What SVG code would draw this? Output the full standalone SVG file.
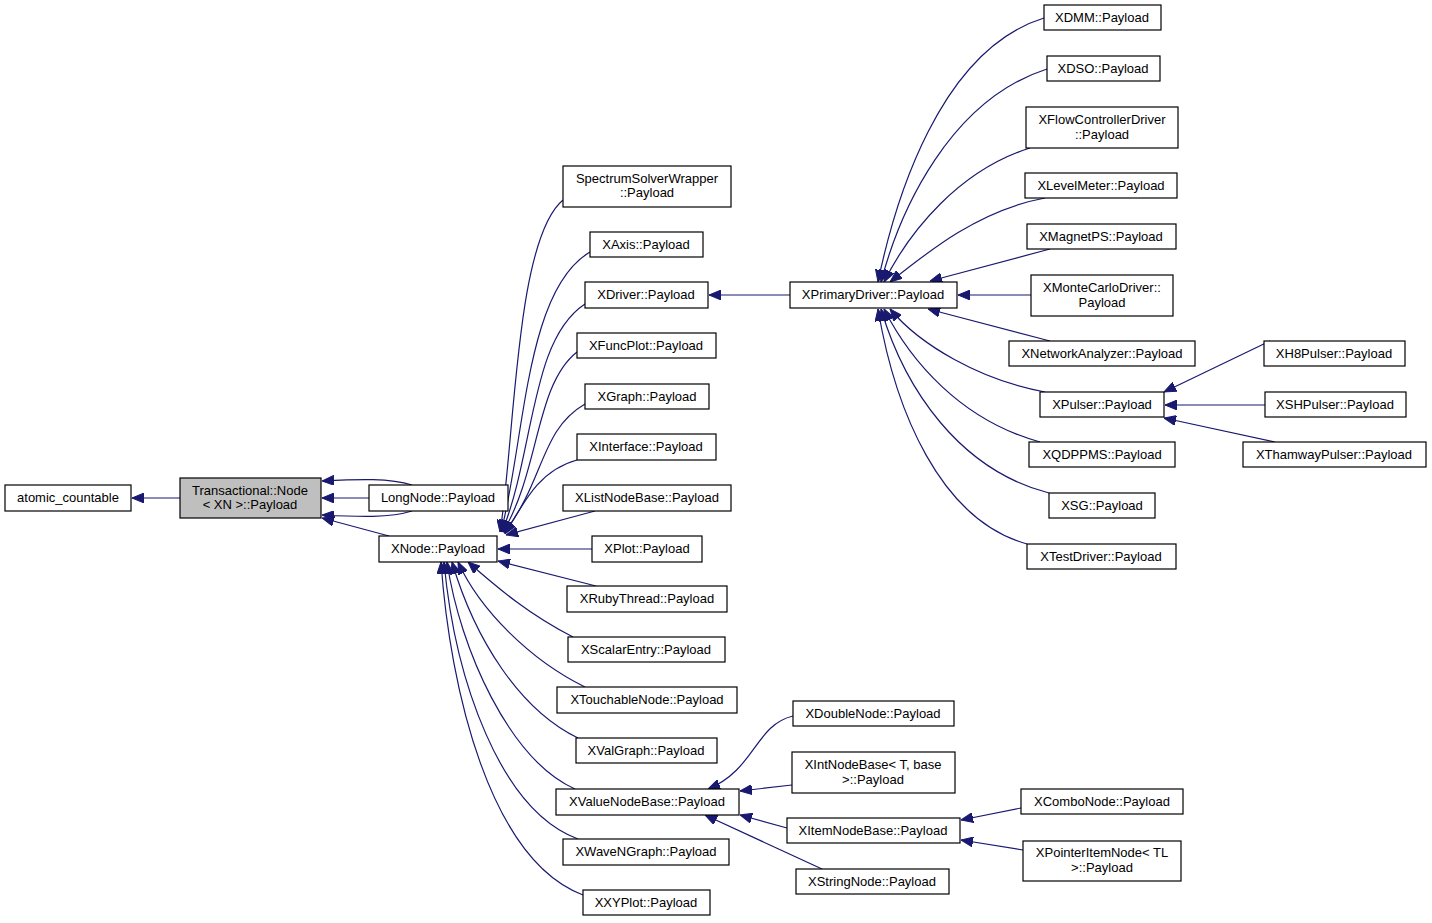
<svg xmlns="http://www.w3.org/2000/svg" width="1432" height="923" viewBox="0 0 1432 923">
<style>
.n rect{fill:#fff;stroke:#000;stroke-width:1.2}
.n text{font-family:"Liberation Sans",Arial,sans-serif;font-size:13px;text-anchor:middle;fill:#000}
#edges path{fill:none;stroke:#191970;stroke-width:1.2;marker-end:url(#a)}
</style>
<defs><marker id="a" viewBox="0 0 12 10" refX="12" refY="5" markerWidth="12" markerHeight="10" markerUnits="userSpaceOnUse" orient="auto"><path d="M0,0L12,5L0,10z" fill="#191970" stroke="#191970"/></marker></defs>
<rect width="1432" height="923" fill="#fff"/>
<g id="edges">
<path d="M180,498L132,498"/>
<path d="M412,485C390,478 360,479 322,481"/>
<path d="M369,498L322,498"/>
<path d="M412,511C390,518 360,517 322,515"/>
<path d="M389,536L322,518"/>
<path d="M563,200C515,240 515,440 500,532"/>
<path d="M590,252C525,290 525,440 501,532"/>
<path d="M585,304C530,340 535,450 502,532"/>
<path d="M577,352C535,385 540,470 503,532"/>
<path d="M585,404C540,430 545,480 504,533"/>
<path d="M577,460C540,470 525,500 505,534"/>
<path d="M595,511L506,535"/>
<path d="M592,549L498,549"/>
<path d="M596,586L498,561"/>
<path d="M573,637C530,615 500,590 468,562"/>
<path d="M585,687C530,660 480,610 458,562"/>
<path d="M578,738C520,710 475,640 452,562"/>
<path d="M575,789C510,760 460,650 447,562"/>
<path d="M578,839C500,810 455,680 444,562"/>
<path d="M583,895C490,860 450,690 441,562"/>
<path d="M790,295L709,295"/>
<path d="M1044,18C940,50 895,200 878,282"/>
<path d="M1047,69C950,100 900,210 881,282"/>
<path d="M1030,148C960,170 910,230 884,282"/>
<path d="M1045,198C980,210 930,250 890,282"/>
<path d="M1050,249L930,281"/>
<path d="M1031,295L958,295"/>
<path d="M1050,341L928,309"/>
<path d="M1045,392C980,380 920,345 890,309"/>
<path d="M1040,442C960,420 910,360 884,309"/>
<path d="M1049,493C960,470 905,390 881,309"/>
<path d="M1027,544C940,520 895,410 878,309"/>
<path d="M1270,341L1164,392"/>
<path d="M1265,405L1165,405"/>
<path d="M1275,442L1164,418"/>
<path d="M793,716C755,725 755,770 708,789"/>
<path d="M792,785L740,791"/>
<path d="M787,828L740,815"/>
<path d="M822,869L705,815"/>
<path d="M1021,808L961,820"/>
<path d="M1023,850L961,840"/>
</g>
<g id="atomic_countable" class="n"><rect x="5" y="485" width="126" height="26"/><text x="68" y="502">atomic_countable</text></g>
<g id="transactional" class="n"><rect x="180" y="478" width="141" height="40" style="fill:#bfbfbf"/><text x="250" y="495">Transactional::Node</text><text x="250" y="509">&lt; XN &gt;::Payload</text></g>
<g id="longnode" class="n"><rect x="369" y="485" width="139" height="26"/><text x="438" y="502">LongNode::Payload</text></g>
<g id="xnode" class="n"><rect x="379" y="536" width="118" height="26"/><text x="438" y="553">XNode::Payload</text></g>
<g id="spectrum" class="n"><rect x="563" y="166" width="168" height="41"/><text x="647" y="183">SpectrumSolverWrapper</text><text x="647" y="197">::Payload</text></g>
<g id="xaxis" class="n"><rect x="590" y="232" width="113" height="25"/><text x="646" y="249">XAxis::Payload</text></g>
<g id="xdriver" class="n"><rect x="585" y="282" width="123" height="26"/><text x="646" y="299">XDriver::Payload</text></g>
<g id="xfuncplot" class="n"><rect x="577" y="333" width="139" height="25"/><text x="646" y="350">XFuncPlot::Payload</text></g>
<g id="xgraph" class="n"><rect x="585" y="384" width="124" height="25"/><text x="647" y="401">XGraph::Payload</text></g>
<g id="xinterface" class="n"><rect x="577" y="434" width="139" height="26"/><text x="646" y="451">XInterface::Payload</text></g>
<g id="xlistnodebase" class="n"><rect x="563" y="485" width="168" height="26"/><text x="647" y="502">XListNodeBase::Payload</text></g>
<g id="xplot" class="n"><rect x="592" y="536" width="110" height="26"/><text x="647" y="553">XPlot::Payload</text></g>
<g id="xrubythread" class="n"><rect x="567" y="586" width="160" height="26"/><text x="647" y="603">XRubyThread::Payload</text></g>
<g id="xscalarentry" class="n"><rect x="568" y="637" width="157" height="25"/><text x="646" y="654">XScalarEntry::Payload</text></g>
<g id="xtouchable" class="n"><rect x="557" y="687" width="180" height="26"/><text x="647" y="704">XTouchableNode::Payload</text></g>
<g id="xvalgraph" class="n"><rect x="576" y="738" width="141" height="25"/><text x="646" y="755">XValGraph::Payload</text></g>
<g id="xvaluenodebase" class="n"><rect x="556" y="789" width="183" height="26"/><text x="647" y="806">XValueNodeBase::Payload</text></g>
<g id="xwavengraph" class="n"><rect x="563" y="839" width="166" height="26"/><text x="646" y="856">XWaveNGraph::Payload</text></g>
<g id="xxyplot" class="n"><rect x="583" y="890" width="127" height="25"/><text x="646" y="907">XXYPlot::Payload</text></g>
<g id="xprimarydriver" class="n"><rect x="790" y="282" width="167" height="26"/><text x="873" y="299">XPrimaryDriver::Payload</text></g>
<g id="xdmm" class="n"><rect x="1044" y="5" width="117" height="25"/><text x="1102" y="22">XDMM::Payload</text></g>
<g id="xdso" class="n"><rect x="1047" y="56" width="113" height="25"/><text x="1103" y="73">XDSO::Payload</text></g>
<g id="xflow" class="n"><rect x="1026" y="107" width="152" height="41"/><text x="1102" y="124">XFlowControllerDriver</text><text x="1102" y="139">::Payload</text></g>
<g id="xlevelmeter" class="n"><rect x="1025" y="173" width="152" height="25"/><text x="1101" y="190">XLevelMeter::Payload</text></g>
<g id="xmagnetps" class="n"><rect x="1027" y="224" width="149" height="25"/><text x="1101" y="241">XMagnetPS::Payload</text></g>
<g id="xmontecarlo" class="n"><rect x="1031" y="275" width="142" height="41"/><text x="1102" y="292">XMonteCarloDriver::</text><text x="1102" y="307">Payload</text></g>
<g id="xnetwork" class="n"><rect x="1009" y="341" width="186" height="25"/><text x="1102" y="358">XNetworkAnalyzer::Payload</text></g>
<g id="xpulser" class="n"><rect x="1040" y="392" width="124" height="25"/><text x="1102" y="409">XPulser::Payload</text></g>
<g id="xqdppms" class="n"><rect x="1029" y="442" width="146" height="25"/><text x="1102" y="459">XQDPPMS::Payload</text></g>
<g id="xsg" class="n"><rect x="1049" y="493" width="106" height="25"/><text x="1102" y="510">XSG::Payload</text></g>
<g id="xtestdriver" class="n"><rect x="1027" y="544" width="149" height="25"/><text x="1101" y="561">XTestDriver::Payload</text></g>
<g id="xh8pulser" class="n"><rect x="1264" y="341" width="141" height="25"/><text x="1334" y="358">XH8Pulser::Payload</text></g>
<g id="xshpulser" class="n"><rect x="1265" y="392" width="141" height="25"/><text x="1335" y="409">XSHPulser::Payload</text></g>
<g id="xthamway" class="n"><rect x="1243" y="442" width="183" height="25"/><text x="1334" y="459">XThamwayPulser::Payload</text></g>
<g id="xdoublenode" class="n"><rect x="793" y="701" width="161" height="25"/><text x="873" y="718">XDoubleNode::Payload</text></g>
<g id="xintnodebase" class="n"><rect x="792" y="752" width="163" height="41"/><text x="873" y="769">XIntNodeBase&lt; T, base</text><text x="873" y="784">&gt;::Payload</text></g>
<g id="xitemnodebase" class="n"><rect x="787" y="818" width="173" height="25"/><text x="873" y="835">XItemNodeBase::Payload</text></g>
<g id="xstringnode" class="n"><rect x="796" y="869" width="153" height="25"/><text x="872" y="886">XStringNode::Payload</text></g>
<g id="xcombonode" class="n"><rect x="1021" y="789" width="162" height="25"/><text x="1102" y="806">XComboNode::Payload</text></g>
<g id="xpointeritem" class="n"><rect x="1023" y="841" width="158" height="40"/><text x="1102" y="857">XPointerItemNode&lt; TL</text><text x="1102" y="872">&gt;::Payload</text></g>
</svg>
